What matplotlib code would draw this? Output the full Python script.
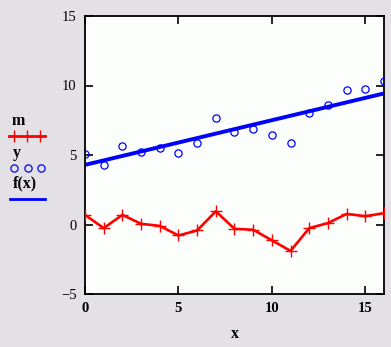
import matplotlib
matplotlib.use('Agg')
import matplotlib.pyplot as plt
from matplotlib.lines import Line2D

# data
x = list(range(17))
y = [5.09, 4.29, 5.62, 5.24, 5.52, 5.17, 5.86, 7.64, 6.64, 6.86, 6.45,
     5.88, 8.05, 8.62, 9.67, 9.74, 10.33]
m = [0.69, -0.26, 0.69, 0.05, -0.1, -0.79, -0.43, 0.95, -0.31, -0.38, -1.14,
     -1.9, -0.26, 0.1, 0.76, 0.6, 0.81]
fx_x = [0, 16]
fx_y = [4.29, 9.43]
xticks = [0, 5, 10, 15]
yticks = [-5, 0, 5, 10, 15]

BG = '#e3e1e5'
RED = '#ff0000'
BLUE = '#0000ff'
SERIF = ['Liberation Serif', 'DejaVu Serif']


def main():
    fig = plt.figure(figsize=(3.91, 3.47), dpi=100, facecolor=BG)
    ax = fig.add_axes([85/391, 1 - 294/347, (384 - 85)/391, (294 - 16)/347])
    ax.set_facecolor('#fcfefc')

    ax.plot(fx_x, fx_y, color=BLUE, lw=2.8, solid_capstyle='butt', zorder=2)
    ax.plot(x, y, ls='none', marker='o', ms=5.2, mfc='none', mec=BLUE, mew=0.9, zorder=3)
    ax.plot(x, m, color=RED, lw=1.9, marker='+', ms=8, mew=1.0, zorder=4)

    ax.set_xlim(0, 16)
    ax.set_ylim(-5, 15)
    ax.set_xticks(xticks)
    ax.set_yticks(yticks)
    ax.set_xticklabels([str(t) for t in xticks], family=SERIF, fontsize=10.5, fontweight='bold')
    ax.set_yticklabels([str(t) if t >= 0 else '\u2212' + str(-t) for t in yticks],
                       family=SERIF, fontsize=10.5)
    ax.tick_params(direction='in', length=5.5, width=1.2, top=True, right=True,
                   pad=6, colors='black')
    for s in ax.spines.values():
        s.set_linewidth(1.3)
    ax.set_xlabel('x', family=SERIF, fontsize=11.5, fontweight='bold', labelpad=8)

    # Mathcad-style legend on the left
    W, H = 391, 347
    def fx(px):
        return px / W
    def fy(py):
        return 1 - py / H
    fig.text(fx(12), fy(121), 'm', family=SERIF, fontsize=11.5, fontweight='bold', va='center')
    fig.add_artist(Line2D([fx(9), fx(45)], [fy(136), fy(136)], color=RED, lw=2.0))
    fig.add_artist(Line2D([fx(14), fx(27), fx(40)], [fy(136)] * 3, ls='none', marker='+',
                          ms=8, mew=1.0, color=RED))
    fig.text(fx(13), fy(153), 'y', family=SERIF, fontsize=11.5, fontweight='bold', va='center')
    fig.add_artist(Line2D([fx(14), fx(28), fx(41)], [fy(168)] * 3, ls='none', marker='o',
                          ms=5.2, mfc='none', mec=BLUE, mew=0.9))
    fig.text(fx(13), fy(183), 'f(x)', family=SERIF, fontsize=11.5, fontweight='bold', va='center')
    fig.add_artist(Line2D([fx(10), fx(45)], [fy(199), fy(199)], color=BLUE, lw=2.0))

    fig.savefig('out.png', dpi=100, facecolor=BG)


if __name__ == '__main__':
    main()
